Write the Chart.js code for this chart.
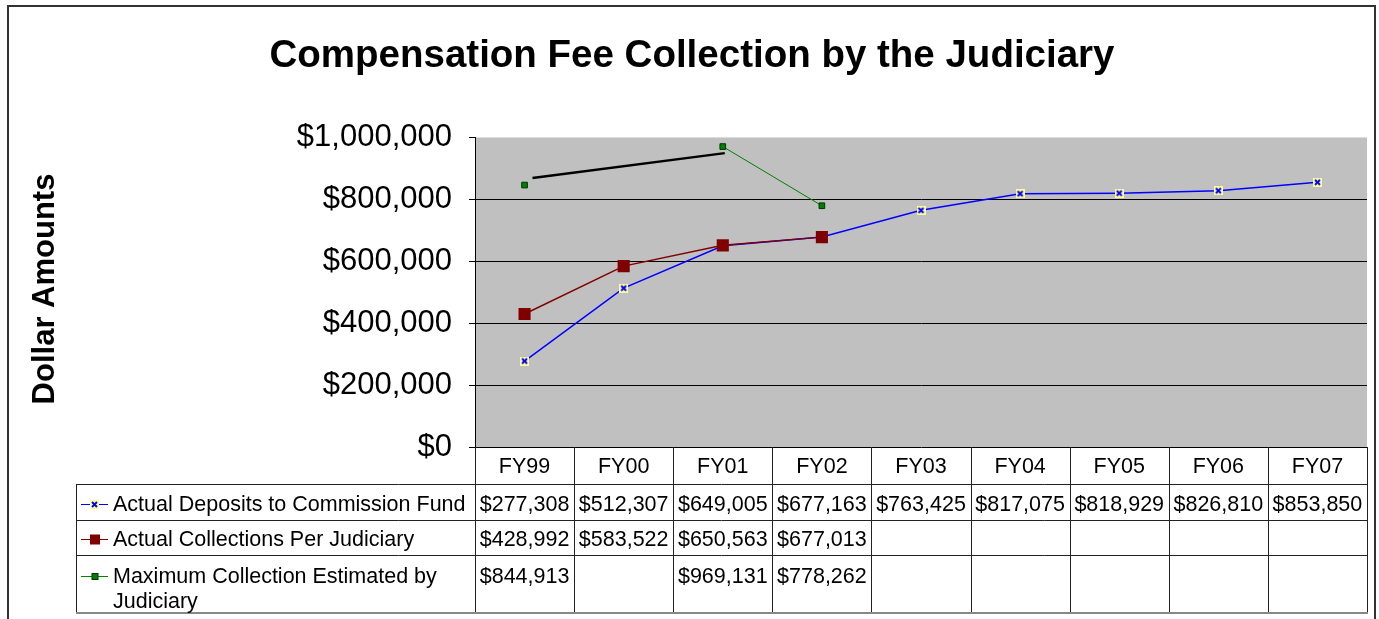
<!DOCTYPE html>
<html>
<head>
<meta charset="utf-8">
<script src="https://cdn.jsdelivr.net/npm/chart.js@4/dist/chart.umd.min.js"></script>
<style>
  html, body { margin: 0; padding: 0; background: #fff; }
  #wrap { width: 1379px; height: 619px; position: relative; }
</style>
</head>
<body>
<div id="wrap"><canvas id="fee-chart"></canvas></div>
<script>
 /*-------------------
 Data
 -------------------*/
const years = ['FY99', 'FY00', 'FY01', 'FY02', 'FY03', 'FY04', 'FY05', 'FY06', 'FY07'];
const deposits = [277308, 512307, 649005, 677163, 763425, 817075, 818929, 826810, 853850];
const collections = [428992, 583522, 650563, 677013, null, null, null, null, null];
const maxEstimate = [844913, null, 969131, 778262, null, null, null, null, null];
const yTicks = [0, 200000, 400000, 600000, 800000, 1000000];
// the loose black stroke drawn over the plot (x in category units)
const noteLineX = [0.08, 2.02];
const noteLineY = [868000, 948000];

const seriesNames = [
  ['Actual Deposits to Commission Fund'],
  ['Actual Collections Per Judiciary'],
  ['Maximum Collection Estimated by', 'Judiciary']
];

const money = v => '$' + v.toLocaleString('en-US');
const FONT = '"Liberation Sans", Arial, sans-serif';

// ----------- marker for the blue series -----------
function crossMarker(size) {
  const c = document.createElement('canvas');
  c.width = size; c.height = size;
  const g = c.getContext('2d');
  g.fillStyle = '#ffff99';
  g.fillRect(0, 0, size, size);
  g.strokeStyle = '#0000ff';
  g.lineWidth = 2;
  g.beginPath();
  g.moveTo(2, 2); g.lineTo(size - 2, size - 2);
  g.moveTo(size - 2, 2); g.lineTo(2, size - 2);
  g.stroke();
  return c;
}
const blueMark = crossMarker(9);

 /*-------------------
 Frame, plot fill, table
 -------------------*/
const TABLE_ROWS = [484, 520, 555, 613];
const TABLE_LEFT = 76;

const chartDecor = {
  id: 'chartDecor',
  beforeDraw(chart) {
    const { ctx, chartArea: a } = chart;
    ctx.save();
    ctx.fillStyle = '#c0c0c0';
    ctx.fillRect(a.left, a.top, a.right - a.left, a.bottom - a.top);
    ctx.strokeStyle = '#dcdcdc';
    ctx.lineWidth = 1;
    ctx.beginPath();
    ctx.moveTo(a.left, a.top + 0.5); ctx.lineTo(a.right, a.top + 0.5);
    ctx.stroke();
    ctx.restore();
  },
  afterDraw(chart) {
    const { ctx, chartArea: a } = chart;
    const x = chart.scales.x;
    const step = x.getPixelForValue(1) - x.getPixelForValue(0);
    ctx.save();

    // outer frame
    ctx.strokeStyle = '#333';
    ctx.lineWidth = 2;
    ctx.beginPath();
    ctx.moveTo(8, 640); ctx.lineTo(8, 6); ctx.lineTo(1375, 6); ctx.lineTo(1375, 640);
    ctx.stroke();

    // title
    ctx.fillStyle = '#000';
    ctx.textAlign = 'center';
    ctx.textBaseline = 'middle';
    ctx.font = 'bold 38.5px ' + FONT;
    ctx.fillText('Compensation Fee Collection by the Judiciary', 692, 56);

    // y title
    ctx.save();
    ctx.translate(45, 289);
    ctx.rotate(-Math.PI / 2);
    ctx.font = 'bold 31px ' + FONT;
    ctx.fillText('Dollar Amounts', 0, 0);
    ctx.restore();

    // table grid
    ctx.strokeStyle = '#222';
    ctx.lineWidth = 1;
    ctx.beginPath();
    TABLE_ROWS.slice(0, 3).forEach(y => {
      ctx.moveTo(TABLE_LEFT, y + 0.5); ctx.lineTo(a.right, y + 0.5);
    });
    ctx.moveTo(TABLE_LEFT + 0.5, TABLE_ROWS[0]); ctx.lineTo(TABLE_LEFT + 0.5, TABLE_ROWS[3]);
    for (let i = 0; i <= years.length; i++) {
      const bx = Math.round(x.getPixelForValue(i) - step / 2) + 0.5;
      ctx.moveTo(bx, a.bottom); ctx.lineTo(bx, TABLE_ROWS[3]);
    }
    ctx.stroke();
    ctx.strokeStyle = '#888';
    ctx.lineWidth = 2;
    ctx.beginPath();
    ctx.moveTo(TABLE_LEFT, TABLE_ROWS[3]); ctx.lineTo(a.right + 1, TABLE_ROWS[3]);
    ctx.stroke();

    // header + values
    ctx.fillStyle = '#000';
    ctx.font = '21.5px ' + FONT;
    ctx.textAlign = 'center';
    years.forEach((yr, i) => {
      ctx.fillText(yr, x.getPixelForValue(i), 467);
    });
    const rowY = [505, 540, 577];
    chart.data.datasets.slice(0, 3).forEach((ds, r) => {
      ds.data.forEach((v, i) => {
        if (v !== null) ctx.fillText(money(v), x.getPixelForValue(i), rowY[r]);
      });
    });

    // row labels with legend keys
    ctx.textAlign = 'left';
    seriesNames.forEach((lines, r) => {
      lines.forEach((t, k) => ctx.fillText(t, 113, rowY[r] + k * 25));
      const ds = chart.data.datasets[r];
      const ky = rowY[r] - 1;
      ctx.strokeStyle = ds.borderColor;
      ctx.lineWidth = 1;
      ctx.beginPath();
      ctx.moveTo(81, ky + 0.5); ctx.lineTo(108, ky + 0.5);
      ctx.stroke();
      if (r === 0) {
        ctx.drawImage(blueMark, 90, ky - 4, 9, 9);
      } else {
        const s = r === 1 ? 10 : 6;
        ctx.fillStyle = ds.pointBackgroundColor;
        ctx.fillRect(95 - s / 2, ky - s / 2 + 0.5, s, s);
        if (r === 2) { ctx.strokeStyle = '#003300'; ctx.strokeRect(95 - s / 2, ky - s / 2 + 0.5, s, s); }
        ctx.fillStyle = '#000';
      }
    });
    ctx.restore();
  }
};

 /*-------------------
 Chart
 -------------------*/
const feeCanvas = document.getElementById('fee-chart');

const feeData = {
  labels: years,
  datasets: [{
    label: 'Actual Deposits to Commission Fund',
    data: deposits,
    borderColor: '#0000ff',
    borderWidth: 1.5,
    pointStyle: blueMark,
    pointBackgroundColor: '#ffff99',
    order: 2
  }, {
    label: 'Actual Collections Per Judiciary',
    data: collections,
    borderColor: '#800000',
    borderWidth: 1.5,
    pointStyle: 'rect',
    pointRadius: 7.5,
    pointBackgroundColor: '#800000',
    pointBorderColor: '#800000',
    order: 1
  }, {
    label: 'Maximum Collection Estimated by Judiciary',
    data: maxEstimate,
    borderColor: '#008000',
    borderWidth: 1,
    pointStyle: 'rect',
    pointRadius: 4,
    pointBackgroundColor: '#008000',
    pointBorderColor: '#003300',
    pointBorderWidth: 1,
    spanGaps: false,
    order: 0
  }, {
    label: 'note',
    data: noteLineX.map((v, i) => ({ x: v, y: noteLineY[i] })),
    xAxisID: 'x2',
    borderColor: '#000',
    borderWidth: 2.5,
    pointRadius: 0,
    order: 3
  }]
};

const feeOptions = {
  responsive: true,
  maintainAspectRatio: false,
  animation: { duration: 0 },
  layout: { padding: { top: 137, right: 12, bottom: 172, left: 0 } },
  scales: {
    x: {
      type: 'category',
      display: false,
      offset: true
    },
    x2: {
      type: 'linear',
      display: false,
      min: -0.5,
      max: 8.5
    },
    y: {
      min: 0,
      max: 1000000,
      afterFit: scale => { scale.width = 475; },
      afterBuildTicks: scale => { scale.ticks = yTicks.map(v => ({ value: v })); },
      border: { color: '#000', width: 1 },
      grid: {
        color: c => c.tick && c.tick.value === 1000000 ? 'rgba(0,0,0,0)' : '#000',
        tickColor: '#000',
        tickLength: 6
      },
      ticks: {
        color: '#000',
        padding: 17,
        font: { family: FONT, size: 31 },
        callback: v => money(v)
      }
    }
  },
  plugins: {
    legend: { display: false },
    tooltip: { enabled: false }
  }
};

let feeChart = new Chart(feeCanvas, {
  type: 'line',
  data: feeData,
  options: feeOptions,
  plugins: [chartDecor]
});
</script>
</body>
</html>
